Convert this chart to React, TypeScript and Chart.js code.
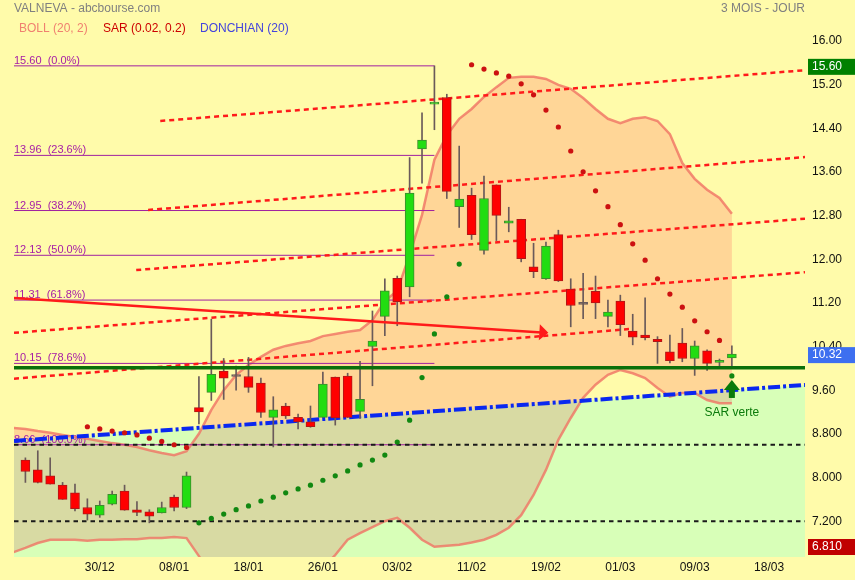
import React, { useEffect, useRef } from 'react';
import { Chart, registerables } from 'chart.js';

Chart.register(...registerables);

// Daily sessions, oldest first
const opens = [
  8.38, 8.2, 8.09, 7.92, 7.78, 7.51, 7.37, 7.57, 7.81, 7.47,
  7.43, 7.41, 7.7, 7.51, 9.34, 9.62, 10.01, 9.91, 9.91, 9.79,
  9.16, 9.37, 9.16, 9.08, 9.16, 9.9, 9.92, 9.27, 10.46, 11.01,
  11.71, 11.55, 14.08, 14.9, 15.02, 13.02, 13.23, 12.22, 13.42, 12.72,
  12.79, 11.92, 11.7, 12.51, 11.51, 11.23, 11.47, 11.01, 11.29, 10.74,
  10.67, 10.59, 10.36, 10.52, 10.24, 10.38, 10.17, 10.25,
];
const highs = [
  8.42, 8.55, 8.42, 7.97, 7.94, 7.67, 7.63, 7.81, 7.92, 7.62,
  7.47, 7.61, 7.74, 8.16, 9.91, 10.96, 10.24, 10.1, 10.26, 9.88,
  9.54, 9.42, 9.22, 9.37, 9.99, 9.9, 9.97, 10.19, 11.11, 11.7,
  11.75, 13.92, 14.74, 15.6, 15.08, 14.13, 13.36, 13.58, 13.42, 13.01,
  12.79, 12.35, 12.37, 12.59, 11.7, 11.8, 11.75, 11.31, 11.4, 11.05,
  11.35, 10.64, 10.67, 10.79, 10.56, 10.4, 10.23, 10.47,
];
const lows = [
  7.97, 7.96, 7.94, 7.66, 7.45, 7.28, 7.33, 7.56, 7.46, 7.36,
  7.23, 7.41, 7.45, 7.49, 9.04, 9.47, 9.49, 9.66, 9.62, 9.16,
  8.62, 9.14, 8.95, 8.98, 9.16, 9.02, 9.16, 9.14, 9.74, 10.66,
  10.84, 11.37, 13.45, 14.43, 13.17, 12.64, 12.42, 12.15, 12.4, 12.56,
  12.01, 11.72, 11.69, 11.65, 10.82, 10.97, 10.97, 10.82, 10.66, 10.49,
  10.58, 10.15, 10.16, 10.18, 9.93, 10.02, 10.08, 10.11,
];
const closes = [
  8.17, 7.97, 7.94, 7.66, 7.49, 7.39, 7.55, 7.75, 7.46, 7.42,
  7.35, 7.51, 7.51, 8.09, 9.26, 9.95, 9.88, 9.91, 9.71, 9.25,
  9.3, 9.19, 9.08, 8.99, 9.77, 9.15, 9.16, 9.49, 10.56, 11.48,
  11.28, 13.27, 14.24, 14.93, 13.3, 13.16, 12.51, 13.17, 12.86, 12.76,
  12.07, 11.83, 12.3, 11.66, 11.21, 11.23, 11.26, 11.09, 10.86, 10.63,
  10.62, 10.55, 10.2, 10.24, 10.47, 10.15, 10.2, 10.32,
];

// Parabolic SAR (0.02, 0.2); null before the indicator starts
const sar = [
  null, null, null, null, null, 8.99, 8.95, 8.91, 8.88, 8.84,
  8.78, 8.72, 8.66, 8.61, 7.23, 7.31, 7.39, 7.47, 7.54, 7.63,
  7.7, 7.78, 7.85, 7.92, 8.01, 8.09, 8.18, 8.29, 8.38, 8.47,
  8.71, 9.11, 9.89, 10.69, 11.37, 11.97, 15.62, 15.54, 15.47, 15.41,
  15.27, 15.07, 14.79, 14.48, 14.04, 13.66, 13.31, 13.02, 12.69, 12.34,
  12.04, 11.7, 11.42, 11.18, 10.93, 10.73, 10.57, 9.92,
];

// Bollinger (20, 2); the first value belongs to the session before the window
const BAND_FIRST = -1;
const bollUpper = [
  8.97,
  8.95, 8.91, 8.88, 8.84, 8.8, 8.77, 8.73, 8.69, 8.66, 8.62,
  8.56, 8.51, 8.47, 8.54, 8.86, 9.3, 9.66, 9.94, 10.12, 10.27,
  10.4, 10.47, 10.52, 10.56, 10.65, 10.69, 10.73, 10.76, 10.94, 11.29,
  11.48, 12.14, 12.87, 13.88, 14.33, 14.63, 14.81, 15.03, 15.21, 15.38,
  15.4, 15.4, 15.36, 15.25, 15.18, 15.01, 14.81, 14.63, 14.55, 14.63,
  14.66, 14.59, 14.35, 13.82, 13.53, 13.33, 13.18, 12.89,
];
const bollLower = [
  6.69,
  6.77, 6.86, 6.92, 6.92, 6.92, 6.9, 6.92, 6.92, 6.93, 6.93,
  6.95, 6.95, 6.97, 6.95, 6.62, 6.25, 5.95, 5.75, 5.62, 5.58,
  5.62, 5.75, 5.95, 6.15, 6.4, 6.64, 6.92, 7.04, 7.15, 7.26,
  7.32, 7.14, 6.92, 6.79, 6.81, 6.83, 6.87, 6.92, 7.01, 7.14,
  7.37, 7.74, 8.2, 8.75, 9.15, 9.52, 9.76, 9.94, 10.03, 9.97,
  9.88, 9.7, 9.54, 9.61, 9.61, 9.48, 9.42, 9.42,
];

const dateTicks = [6, 12, 18, 24, 30, 36, 42, 48, 54, 60];
const dateLabels = ['30/12', '08/01', '18/01', '26/01', '03/02', '11/02', '19/02', '01/03', '09/03', '18/03'];

const priceTicks = [16, 15.2, 14.4, 13.6, 12.8, 12, 11.2, 10.4, 9.6, 8.8, 8, 7.2];
const priceTickLabels = ['16.00', '15.20', '14.40', '13.60', '12.80', '12.00', '11.20', '10.40', '9.60', '8.800', '8.000', '7.200'];

// Fibonacci retracement between the 15.60 high and the 8.66 base
const fibLevels = [15.6, 13.96, 12.95, 12.13, 11.31, 10.15, 8.66];
const fibPercents = ['0.0%', '23.6%', '38.2%', '50.0%', '61.8%', '78.6%', '100.0%'];
const FIB_END = 33;

const X_MIN = -0.92;
const X_MAX = 62.9;

// Drawn levels and trend lines, as [session, price] pairs
const supportLevel = 10.07;
const dashedLevels = [8.66, 7.26];
const channelLines = [
  [[10.88, 14.59], [X_MAX, 15.52]],
  [[9.9, 12.96], [X_MAX, 13.93]],
  [[8.94, 11.86], [X_MAX, 12.8]],
  [[X_MIN, 10.71], [X_MAX, 11.82]],
  [[X_MIN, 9.87], [48.8, 10.78]],
];
const trendLine = [[X_MIN, 11.35], [41.95, 10.71]];
const donchianLine = [[X_MIN, 8.73], [X_MAX, 9.755]];

const periodHigh = 15.6;
const periodLow = 6.81;
const lastPrice = closes[closes.length - 1];

const FONT = '"Liberation Sans", Arial, sans-serif';
const BG = '#FFFBAA';
const GREEN_ZONE = '#D8FFB8';
const UP = '#22DD11';
const UP_EDGE = '#3E8A2E';
const DOWN = '#FF0000';
const DOWN_EDGE = '#B01818';
const NEUTRAL = '#6A5A5A';
const SAR_DOWN = '#CC1111';
const SAR_UP = '#118811';
const SIGNAL_GREEN = '#0A7A0A';

const toPts = (pts: number[][]) => pts.map(([x, y]) => ({ x, y }));

const lineDataset = (pts: number[][], color: string, width: number, dash: number[], order: number) => ({
  type: 'line' as const,
  data: toPts(pts),
  borderColor: color,
  borderWidth: width,
  borderDash: dash,
  borderCapStyle: 'butt' as const,
  pointRadius: 0,
  fill: false,
  tension: 0,
  order,
});

const decorPlugin = {
  id: 'decor',
  beforeDraw(chart: any) {
    const { ctx, width, height } = chart;
    ctx.save();
    ctx.fillStyle = BG;
    ctx.fillRect(0, 0, width, height);
    ctx.restore();
  },
  beforeDatasetsDraw(chart: any) {
    const { ctx, chartArea: a } = chart;
    const xs = chart.scales.x;
    const ys = chart.scales.y;
    const px = (v: number) => xs.getPixelForValue(v);
    const py = (v: number) => ys.getPixelForValue(v);
    ctx.save();
    ctx.beginPath();
    ctx.rect(a.left, a.top, a.right - a.left, a.bottom - a.top);
    ctx.clip();

    // zone under the Donchian line
    const [d0, d1] = donchianLine;
    ctx.fillStyle = GREEN_ZONE;
    ctx.beginPath();
    ctx.moveTo(px(d0[0]), py(d0[1]));
    ctx.lineTo(px(d1[0]), py(d1[1]));
    ctx.lineTo(px(d1[0]), a.bottom);
    ctx.lineTo(px(d0[0]), a.bottom);
    ctx.closePath();
    ctx.fill();

    // Bollinger envelope, tinted over whatever lies beneath
    ctx.globalCompositeOperation = 'multiply';
    ctx.fillStyle = 'rgb(255,218,226)';
    ctx.beginPath();
    bollUpper.forEach((v, k) => {
      const X = px(k + BAND_FIRST);
      const Y = py(v);
      if (k === 0) ctx.moveTo(X, Y);
      else ctx.lineTo(X, Y);
    });
    for (let k = bollLower.length - 1; k >= 0; k--) {
      ctx.lineTo(px(k + BAND_FIRST), py(bollLower[k]));
    }
    ctx.closePath();
    ctx.fill();
    ctx.globalCompositeOperation = 'source-over';

    // Fibonacci captions
    ctx.font = `11px ${FONT}`;
    ctx.fillStyle = '#A61CA6';
    ctx.textAlign = 'left';
    ctx.textBaseline = 'alphabetic';
    fibLevels.forEach((v, k) => {
      ctx.fillText(`${v.toFixed(2)}  (${fibPercents[k]})`, a.left, py(v) - 2);
    });
    ctx.restore();
  },
  afterDatasetsDraw(chart: any) {
    const { ctx } = chart;
    const xs = chart.scales.x;
    const ys = chart.scales.y;
    const px = (v: number) => xs.getPixelForValue(v);
    const py = (v: number) => ys.getPixelForValue(v);
    ctx.save();

    // arrow head closing the trend line
    const [t0, t1] = trendLine;
    const x0 = px(t0[0]);
    const y0 = py(t0[1]);
    const x1 = px(t1[0]);
    const y1 = py(t1[1]);
    const ang = Math.atan2(y1 - y0, x1 - x0);
    ctx.translate(x1 + 3, y1);
    ctx.rotate(ang);
    ctx.fillStyle = '#FF1A1A';
    ctx.beginPath();
    ctx.moveTo(0, 0);
    ctx.lineTo(-9, -8);
    ctx.lineTo(-9, 8);
    ctx.closePath();
    ctx.fill();
    ctx.setTransform(1, 0, 0, 1, 0, 0);

    // green SAR signal on the last session
    const last = closes.length - 1;
    const sx = px(last);
    const sy = py(sar[last] as number);
    ctx.fillStyle = SIGNAL_GREEN;
    ctx.beginPath();
    ctx.moveTo(sx, sy + 4);
    ctx.lineTo(sx + 8, sy + 14);
    ctx.lineTo(sx - 8, sy + 14);
    ctx.closePath();
    ctx.fill();
    ctx.fillRect(sx - 3, sy + 14, 6, 8);
    ctx.font = `12px ${FONT}`;
    ctx.textAlign = 'center';
    ctx.textBaseline = 'middle';
    ctx.fillText('SAR verte', sx, sy + 37);
    ctx.restore();
  },
  afterDraw(chart: any) {
    const { ctx, chartArea: a, width } = chart;
    const ys = chart.scales.y;
    ctx.save();
    ctx.font = `12px ${FONT}`;
    ctx.textBaseline = 'middle';

    ctx.fillStyle = '#808080';
    ctx.textAlign = 'left';
    ctx.fillText('VALNEVA - abcbourse.com', 14, 9);
    ctx.textAlign = 'right';
    ctx.fillText('3 MOIS - JOUR', a.right, 9);

    ctx.textAlign = 'left';
    const legend = [
      ['BOLL (20, 2)', '#F08070', 19],
      ['SAR (0.02, 0.2)', '#CC0000', 103],
      ['DONCHIAN (20)', '#4444DD', 200],
    ];
    legend.forEach(([t, c, x]) => {
      ctx.fillStyle = c as string;
      ctx.fillText(t as string, x as number, 29);
    });

    const box = (text: string, cy: number, color: string) => {
      ctx.fillStyle = color;
      ctx.fillRect(a.right + 3, cy - 8, width - a.right - 3, 16);
      ctx.fillStyle = '#FFFFFF';
      ctx.textAlign = 'left';
      ctx.fillText(text, a.right + 7, cy);
    };
    box(periodHigh.toFixed(2), ys.getPixelForValue(periodHigh) + 1, '#008000');
    box(lastPrice.toFixed(2), ys.getPixelForValue(lastPrice) + 1, '#3D6FF0');
    box(periodLow.toFixed(3), a.bottom - 10, '#C00000');
    ctx.restore();
  },
};

export default function App() {
  const ref = useRef<HTMLCanvasElement | null>(null);

  useEffect(() => {
    if (!ref.current) return;
    const idx = closes.map((_, i) => i);
    const bodyColor = idx.map((i) => (closes[i] > opens[i] ? UP : closes[i] < opens[i] ? DOWN : NEUTRAL));
    const bodyEdge = idx.map((i) => (closes[i] > opens[i] ? UP_EDGE : closes[i] < opens[i] ? DOWN_EDGE : NEUTRAL));
    const sarIdx = idx.filter((i) => sar[i] != null);

    const chart = new Chart(ref.current, {
      type: 'bar',
      data: {
        datasets: [
          {
            type: 'line',
            data: sarIdx.map((i) => ({ x: i, y: sar[i] as number })),
            showLine: false,
            pointRadius: 2.6,
            pointBorderWidth: 0,
            pointBackgroundColor: sarIdx.map((i) => ((sar[i] as number) > closes[i] ? SAR_DOWN : SAR_UP)),
            order: 1,
          },
          lineDataset(trendLine, '#FF1A1A', 2.5, [], 2),
          lineDataset([[X_MIN, supportLevel], [X_MAX, supportLevel]], '#0A700A', 3.5, [], 3),
          {
            type: 'bar',
            data: idx.map((i) => ({ x: i, y: [opens[i], closes[i]] })),
            backgroundColor: bodyColor,
            borderColor: bodyEdge,
            borderWidth: 1,
            borderSkipped: false,
            barThickness: 9,
            minBarLength: 2,
            grouped: false,
            order: 4,
          },
          {
            type: 'bar',
            data: idx.map((i) => ({ x: i, y: [lows[i], highs[i]] })),
            backgroundColor: NEUTRAL,
            borderWidth: 0,
            barThickness: 1,
            grouped: false,
            order: 5,
          },
          ...channelLines.map((l) => lineDataset(l, '#FF1A1A', 2.5, [5, 4], 6)),
          lineDataset(donchianLine, '#0A28F0', 4, [12, 3, 3, 3], 7),
          ...dashedLevels.map((v) => lineDataset([[X_MIN, v], [X_MAX, v]], '#1A1A1A', 2, [4.5, 4], 8)),
          ...fibLevels.map((v) => lineDataset([[X_MIN, v], [FIB_END, v]], '#A020A0', 1, [], 9)),
          {
            type: 'line',
            data: bollUpper.map((v, k) => ({ x: k + BAND_FIRST, y: v })),
            borderColor: 'rgba(240,115,100,0.8)',
            borderWidth: 2.5,
            pointRadius: 0,
            fill: false,
            tension: 0,
            order: 10,
          },
          {
            type: 'line',
            data: bollLower.map((v, k) => ({ x: k + BAND_FIRST, y: v })),
            borderColor: 'rgba(240,115,100,0.8)',
            borderWidth: 2.5,
            pointRadius: 0,
            fill: false,
            tension: 0,
            order: 10,
          },
        ] as any,
      },
      options: {
        responsive: false,
        devicePixelRatio: 1,
        animation: false,
        events: [],
        layout: { autoPadding: false, padding: { left: 14, top: 0, right: 0, bottom: 0 } },
        plugins: { legend: { display: false }, tooltip: { enabled: false } },
        scales: {
          x: {
            type: 'linear',
            min: X_MIN,
            max: X_MAX,
            offset: false,
            grid: { display: false, drawTicks: false },
            border: { display: false },
            afterBuildTicks: (s: any) => {
              s.ticks = dateTicks.map((v) => ({ value: v }));
            },
            afterFit: (s: any) => {
              s.height = 23;
              s.paddingLeft = 0;
              s.paddingRight = 0;
            },
            ticks: {
              autoSkip: false,
              maxRotation: 0,
              padding: 3,
              color: '#111111',
              font: { family: FONT, size: 12 },
              callback: (v: any) => dateLabels[dateTicks.indexOf(Number(v))] ?? '',
            },
          },
          y: {
            type: 'linear',
            position: 'right',
            min: 6.604,
            max: 16.806,
            grid: { display: false, drawTicks: false },
            border: { display: false },
            afterBuildTicks: (s: any) => {
              s.ticks = priceTicks.map((v) => ({ value: v }));
            },
            afterFit: (s: any) => {
              s.width = 50;
              s.paddingTop = 0;
              s.paddingBottom = 0;
            },
            ticks: {
              padding: 7,
              labelOffset: -3,
              color: '#111111',
              font: { family: FONT, size: 12 },
              callback: (v: any) => {
                const k = priceTicks.findIndex((t) => Math.abs(t - Number(v)) < 1e-6);
                return k >= 0 ? priceTickLabels[k] : '';
              },
            },
          },
        },
      } as any,
      plugins: [decorPlugin],
    });
    return () => chart.destroy();
  }, []);

  return (
    <div style={{ position: 'absolute', left: 0, top: 0, width: 855, height: 580 }}>
      <canvas ref={ref} width={855} height={580} style={{ display: 'block' }} />
    </div>
  );
}
